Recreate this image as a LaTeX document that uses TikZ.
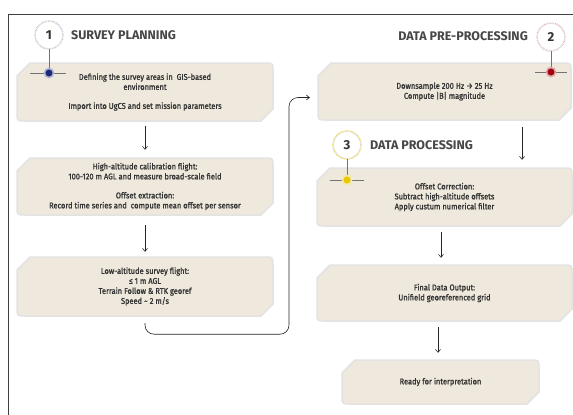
\documentclass[tikz,border=0pt]{standalone}
\usepackage{fontspec}
\setmainfont{Fira Sans}
\newfontfamily\medfont{Fira Sans}[FakeBold=1.2,FakeStretch=0.89]
\usetikzlibrary{arrows.meta,calc}
\definecolor{boxfill}{HTML}{EFE8DC}
\definecolor{boxline}{HTML}{E3E3E3}
\definecolor{txtc}{HTML}{333333}
\definecolor{navy}{HTML}{1C2878}
\definecolor{ruby}{HTML}{A3000E}
\definecolor{gold}{HTML}{E6C700}
\tikzset{
  boxsty/.style={fill=boxfill, draw=boxline, line width=1.5pt, line join=round},
  boxtxt/.style={inner sep=0pt, align=center, text=txtc, font=\medfont\fontsize{8.4}{10}\selectfont},
  arr/.style={draw=black!85, line width=0.6pt, -{Straight Barb[length=3pt,width=5pt]}},
  glin/.style={draw=black!55, line width=0.6pt},
  numcirc/.style={circle, fill=white, minimum size=27pt, inner sep=0pt, text=txtc,
    font=\fontsize{13}{13}\selectfont\bfseries, line width=0.7pt},
  dotsty/.style={circle, inner sep=0pt, minimum size=9pt, line width=1.6pt},
  ttl/.style={inner sep=0pt, text=txtc!90, font=\fontsize{12.5}{14}\selectfont\bfseries}
}
\newcommand\chbox[6]{%
  \draw[boxsty] ({#2},{#3+13}) -- ({#2+13},{#3}) -- ({#4-8},{#3}) .. controls ({#4},{#3}) .. ({#4},{#3+8})
     -- ({#4},{#5-12}) -- ({#4-12},{#5}) -- ({#2+8},{#5}) .. controls ({#2},{#5}) .. ({#2},{#5-8}) -- cycle;
  \node[boxtxt, minimum width={#4-#2}, minimum height={#5-#3}] (#1) at ({(#2+#4)/2},{(#3+#5)/2}) {#6};
}
\begin{document}
\begin{tikzpicture}[x=1pt,y=-1pt]
\useasboundingbox (0,0) rectangle (573,415);
\fill[white] (0,0) rectangle (573,415);
% frame
\draw[black!75, line width=1pt] (8,415) -- (8,14) -- (573,14);

% boxes
\chbox{b1}{17}{63}{273}{121}{Defining the survey areas in\ \ GIS-based\\ environment\\[9pt] Import into UgCS and set mission parameters}
\chbox{b2}{17}{158}{273}{215}{High-altitude calibration flight:\\ 100-120 m AGL and measure broad-scale field\\[9pt] Offset extraction:\\ Record time series and\ \ compute mean offset per sensor}
\chbox{b3}{17}{257}{273}{316}{Low-altitude survey flight:\\ ≤ 1 m AGL\\ Terrain Follow \& RTK georef\\ Speed \textasciitilde{} 2 m/s}
\chbox{b4}{318}{63}{571}{120}{Downsample 200 Hz → 25 Hz\\ Compute |B| magnitude}
\chbox{b5}{317}{168}{572}{226}{Offset Correction:\\ Subtract high-altitude offsets\\ Apply custum numerical filter}
\chbox{b6}{317}{265}{572}{321}{Final Data Output:\\ Unifield georeferenced grid}
\chbox{b7}{342}{360}{539}{404}{Ready for interpretation}

% arrows
\draw[arr] ([yshift=-5pt]b1.south) -- ([yshift=8pt]b2.north);
\draw[arr] ([yshift=-10pt]b2.south) -- ([yshift=5pt]b3.north);
\draw[arr] ([xshift=77.5pt,yshift=-7pt]b4.south) -- ([xshift=77.5pt,yshift=8pt]b5.north);
\draw[arr] ([xshift=-3.5pt,yshift=-6pt]b5.south) -- ([xshift=-3.5pt,yshift=7pt]b6.north);
\draw[arr, shorten <=6pt, shorten >=7pt] ([xshift=-2.5pt]b7.north |- b6.south) -- ([xshift=-2.5pt]b7.north);
\draw[arr, rounded corners=9pt] ([yshift=-7pt]b3.south) |- ($(b3.south)+(144,18)$) |- ([xshift=-8pt,yshift=-6pt]b4.west);

% markers
\coordinate (d1) at (49,73);
\coordinate (d2) at (551,72);
\coordinate (d3) at (347,180);
\node[numcirc, draw=black!12] (n1) at (49,35) {1};
\node[numcirc, draw=black!12] (n2) at (551,37) {2};
\node[numcirc, draw=black!12] (n3) at (347,145) {3};
\draw[navy!45, densely dotted, line width=0.6pt] (n1) circle (14.3pt);
\draw[ruby!45, densely dotted, line width=0.6pt] (n2) circle (14.3pt);
\draw[gold!60, line width=0.6pt] (n3) circle (14.3pt);
\draw[glin] (n1.south) -- (d1);
\draw[glin] (n2.south) -- (d2);
\draw[glin] (n3.south) -- (d3);
\draw[glin] ([xshift=-19pt]d1) -- ([xshift=17pt]d1);
\draw[glin] ([xshift=-16pt]d2) -- ([xshift=16pt]d2);
\draw[glin] ([xshift=-17pt]d3) -- ([xshift=17pt]d3);
\node[dotsty, fill=navy, draw=navy!35] (m1) at (d1) {};
\node[dotsty, fill=ruby, draw=ruby!35] (m2) at (d2) {};
\node[dotsty, fill=gold, draw=gold!40] (m3) at (d3) {};

% titles
\node[ttl, anchor=west] (t1) at (71,35) {SURVEY PLANNING};
\node[ttl, anchor=east] (t2) at (528,36) {DATA PRE-PROCESSING};
\node[ttl, anchor=west] (t3) at (370,145) {DATA PROCESSING};
\end{tikzpicture}
\end{document}
